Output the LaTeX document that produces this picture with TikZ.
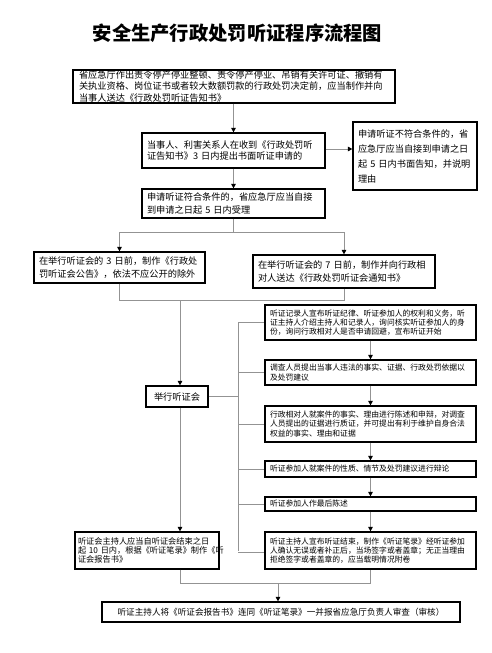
\documentclass[tikz,border=0pt]{standalone}
\usepackage{fontspec}
\setmainfont{Noto Sans CJK SC}
\usetikzlibrary{arrows.meta}
\tikzset{
  box/.style={draw=black, line width=1.2pt, rectangle, align=left, inner xsep=5pt, inner ysep=0pt,
    font=\fontsize{9.2}{11.6}\selectfont},
  sbox/.style={box, font=\fontsize{7.8}{9.2}\selectfont},
  conn/.style={draw=gray!85, line width=0.9pt},
  arr/.style={conn, -{Triangle[width=4.5pt,length=4.5pt,color=black]}},
  ttl/.style={font=\fontsize{19.3}{22}\selectfont\bfseries}
}
\begin{document}
\begin{tikzpicture}[x=1pt,y=-1pt]
\path[fill=white,use as bounding box] (0,0) rectangle (492,653);
\node[ttl] (title) at (237.5,33) {安全生产行政处罚听证程序流程图};

\node[box, minimum width=322pt, minimum height=33pt, text width=310pt, inner xsep=6pt] (b1) at (234,86.5)
 {省应急厅作出责令停产停业整顿、责令停产停业、吊销有关许可证、撤销有\\关执业资格、岗位证书或者较大数额罚款的行政处罚决定前，应当制作并向\\当事人送达《行政处罚听证告知书》};
\node[box, minimum width=183pt, minimum height=35pt, text width=173pt] (b2) at (233.5,150.5)
 {当事人、利害关系人在收到《行政处罚听\\证告知书》3~日内提出书面听证申请的};
\node[box, minimum width=124pt, minimum height=68pt, text width=114pt, font=\fontsize{9.2}{15}\selectfont] (bno) at (415,156)
 {申请听证不符合条件的，省\\应急厅应当自接到申请之日\\起~5~日内书面告知，并说明\\理由};
\node[box, minimum width=183pt, minimum height=29pt, text width=173pt, font=\fontsize{9.2}{12.7}\selectfont] (b3) at (233.5,203.5)
 {申请听证符合条件的，省应急厅应当自接\\到申请之日起~5~日内受理};
\node[box, minimum width=171pt, minimum height=31pt, text width=161pt, font=\fontsize{9.2}{12.7}\selectfont] (b4l) at (119.5,267.5)
 {在举行听证会的~3~日前，制作《行政处\\罚听证会公告》，依法不应公开的除外};
\node[box, minimum width=182pt, minimum height=33pt, text width=172pt, font=\fontsize{9.2}{13.3}\selectfont] (b4r) at (344,271.5)
 {在举行听证会的~7~日前，制作并向行政相\\对人送达《行政处罚听证会通知书》};
\node[box, minimum width=62pt, minimum height=21pt, align=center] (hold) at (177,396.5) {举行听证会};

\node[sbox, minimum width=211pt, minimum height=35pt, text width=201pt] (r1) at (370.5,322.5)
 {听证记录人宣布听证纪律、听证参加人的权利和义务，听\\证主持人介绍主持人和记录人，询问核实听证参加人的身\\份，询问行政相对人是否申请回避，宣布听证开始};
\node[sbox, minimum width=211pt, minimum height=25pt, text width=201pt] (r2) at (370.5,372.5)
 {调查人员提出当事人违法的事实、证据、行政处罚依据以\\及处罚建议};
\node[sbox, minimum width=211pt, minimum height=36pt, text width=201pt] (r3) at (370.5,424)
 {行政相对人就案件的事实、理由进行陈述和申辩，对调查\\人员提出的证据进行质证，并可提出有利于维护自身合法\\权益的事实、理由和证据};
\node[sbox, minimum width=211pt, minimum height=16pt, text width=201pt] (r4) at (370.5,469)
 {听证参加人就案件的性质、情节及处罚建议进行辩论};
\node[sbox, minimum width=211pt, minimum height=14pt, text width=201pt] (r5) at (370.5,504)
 {听证参加人作最后陈述};
\node[sbox, minimum width=211pt, minimum height=37pt, text width=201pt] (r6) at (370.5,550.5)
 {听证主持人宣布听证结束，制作《听证笔录》经听证参加\\人确认无误或者补正后，当场签字或者盖章；无正当理由\\拒绝签字或者盖章的，应当载明情况附卷};
\node[box, minimum width=144pt, minimum height=37pt, text width=138pt, inner xsep=3pt, font=\fontsize{8.2}{9.2}\selectfont] (l2) at (147,550.5)
 {听证会主持人应当自听证会结束之日\\起~10~日内，根据《听证笔录》制作《听\\证会报告书》};
\node[box, minimum width=358pt, minimum height=20pt, align=center, font=\fontsize{8.6}{10}\selectfont] (bot) at (281,612)
 {听证主持人将《听证会报告书》连同《听证笔录》一并报省应急厅负责人审查（审核）};

\coordinate (j1) at (233.5,232);
\coordinate (j2) at (180,300);
\coordinate (bus) at (238,396.5);
\coordinate (j3) at (278,583);

\draw[arr] (b1.south -| b2.north) -- (b2.north);
\draw[arr] (b2.east |- 0,149) -- (bno.west |- 0,149);
\draw[arr] (b2.south) -- (b3.north);
\draw[conn] (b3.south) -- (j1);
\draw[conn] (j1 -| b4l.north) -- (j1 -| b4r.north);
\draw[arr] (j1 -| b4l.north) -- (b4l.north);
\draw[arr] (j1 -| b4r.north) -- (b4r.north);
\draw[conn] (b4l.south) -- (b4l.south |- j2) -- (b4r.south |- j2) -- (b4r.south);
\draw[arr] (j2) -- (j2 |- hold.north);

\draw[conn] (hold.east) -- (bus);
\draw[conn] (bus |- r1.west) -- (bus |- r6.west);
\foreach \r in {r1,r2,r3,r4,r5} \draw[conn] (bus |- \r.west) -- (\r.west);
\draw[conn] (bus |- 0,552) -- (r6.west |- 0,552);

\draw[arr] (r1.south) -- (r2.north);
\draw[arr] (r2.south) -- (r3.north);
\draw[arr] (r3.south) -- (r4.north);
\draw[arr] (r4.south) -- (r5.north);
\draw[arr] (r5.south) -- (r6.north);

\draw[arr] (j2 |- hold.south) -- (j2 |- l2.north);
\draw[conn] (j2 |- l2.south) -- (j2 |- j3) -- (r6.south |- j3) -- (r6.south);
\draw[arr] (j3) -- (j3 |- bot.north);
\end{tikzpicture}
\end{document}
